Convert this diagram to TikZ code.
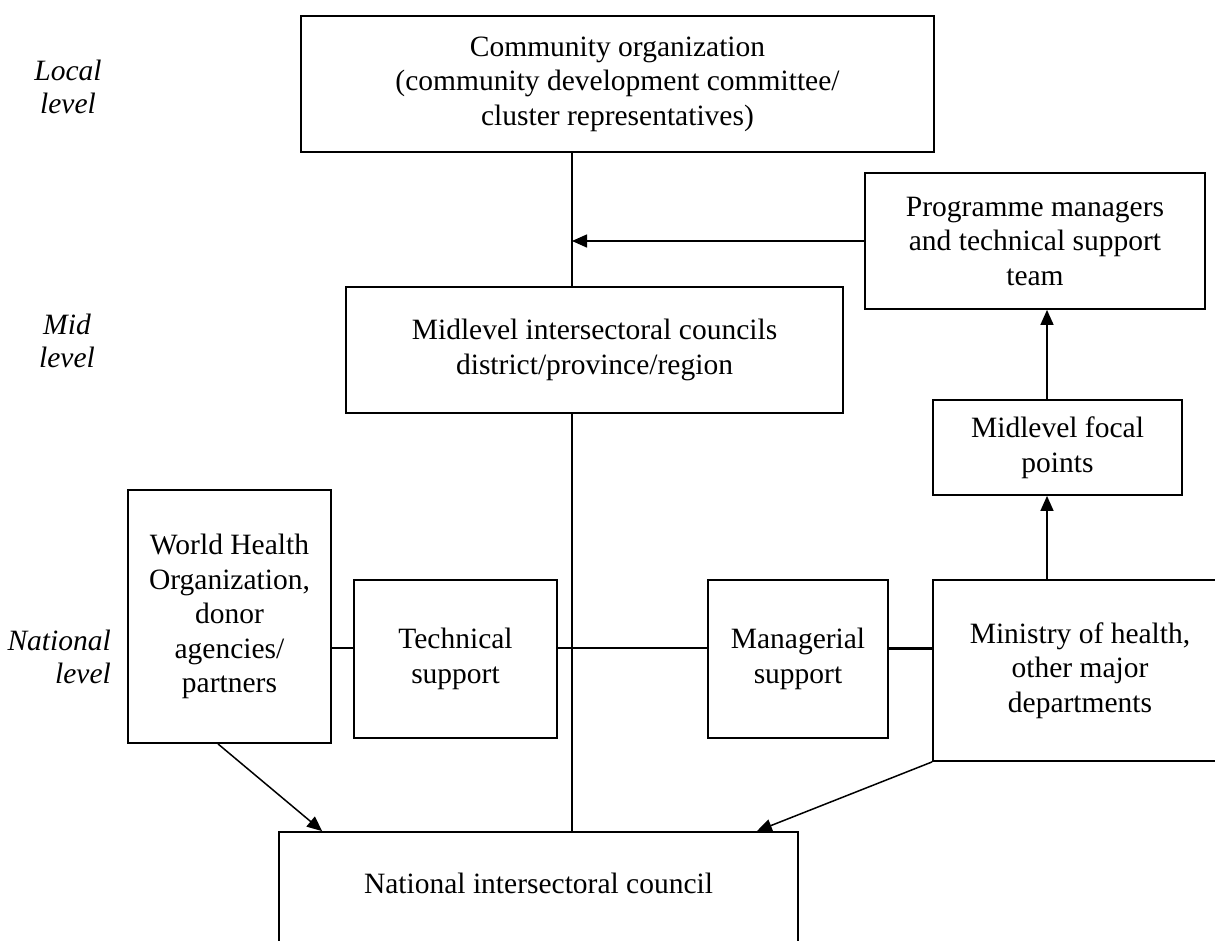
\documentclass[tikz,border=0pt]{standalone}
\usepackage{fontspec}
\setmainfont{Liberation Serif}
\usetikzlibrary{arrows.meta}
\begin{document}
\begin{tikzpicture}[x=1pt,y=-1pt,
  box/.style={draw, line width=1.8pt, inner sep=0pt, align=center,
    font=\fontsize{29.5}{34.5}\selectfont},
  lvl/.style={inner sep=0pt, font=\fontsize{29.5}{33}\selectfont\itshape},
  conn/.style={line width=1.5pt},
  arr/.style={line width=1.5pt, -{Triangle[length=15pt,width=13pt]}}]
\useasboundingbox (0,0) rectangle (1215,940);
\coordinate (vx) at (572,0);
\coordinate (hy) at (0,648);
\coordinate (fx) at (1047,0);

% level labels
\node[lvl, align=center] (lloc) at (68,86.5) {Local\\level};
\node[lvl, align=center] (lmid) at (67,340.5) {Mid\\level};
\node[lvl, align=right, anchor=east] (lnat) at (111,656.5) {National\\level};

% boxes
\node[box, minimum width=633pt, minimum height=136pt] (comm) at (617.5,84)
  {Community organization\\(community development committee/\\cluster representatives)};
\node[box, minimum width=340pt, minimum height=136pt] (prog) at (1035,241)
  {Programme managers\\and technical support\\team};
\node[box, minimum width=497pt, minimum height=126pt] (mid) at (594.5,350)
  {Midlevel intersectoral councils\\district/province/region};
\node[box, minimum width=249pt, minimum height=95pt] (foc) at (1057.5,447.5)
  {Midlevel focal\\points};
\node[box, minimum width=203pt, minimum height=253pt] (who) at (229.5,616.5)
  {World Health\\Organization,\\donor\\agencies/\\partners};
\node[box, minimum width=203pt, minimum height=158pt] (tech) at (455.5,659)
  {Technical\\support};
\node[box, minimum width=180pt, minimum height=158pt] (man) at (798,659)
  {Managerial\\support};
\node[box, minimum width=294pt, minimum height=181pt] (min) at (1080,670.5)
  {Ministry of health,\\other major\\departments};
\node[box, minimum width=519pt, minimum height=120pt] (nat) at (538.5,892)
  {\raisebox{18pt}{National intersectoral council}};

\coordinate (natL) at ([xshift=44pt]nat.north west);
\coordinate (natR) at ([xshift=-42pt]nat.north east);
\coordinate (whoS) at ([xshift=-11.5pt]who.south);

% connectors
\draw[conn] (comm.south -| vx) -- (mid.north -| vx);
\draw[conn] (mid.south -| vx) -- (nat.north -| vx);
\draw[arr] (prog.west) -- (prog.west -| vx);
\draw[arr] (foc.north -| fx) -- (prog.south -| fx);
\draw[arr] (min.north -| fx) -- (foc.south -| fx);
\draw[conn] (who.east |- hy) -- (tech.west |- hy);
\draw[conn] (tech.east |- hy) -- (man.west |- hy);
\draw[line width=3pt] (man.east |- hy) -- (min.west |- hy);
\draw[arr] (whoS) -- (natL);
\draw[arr] (min.south west) -- (natR);
\end{tikzpicture}
\end{document}
